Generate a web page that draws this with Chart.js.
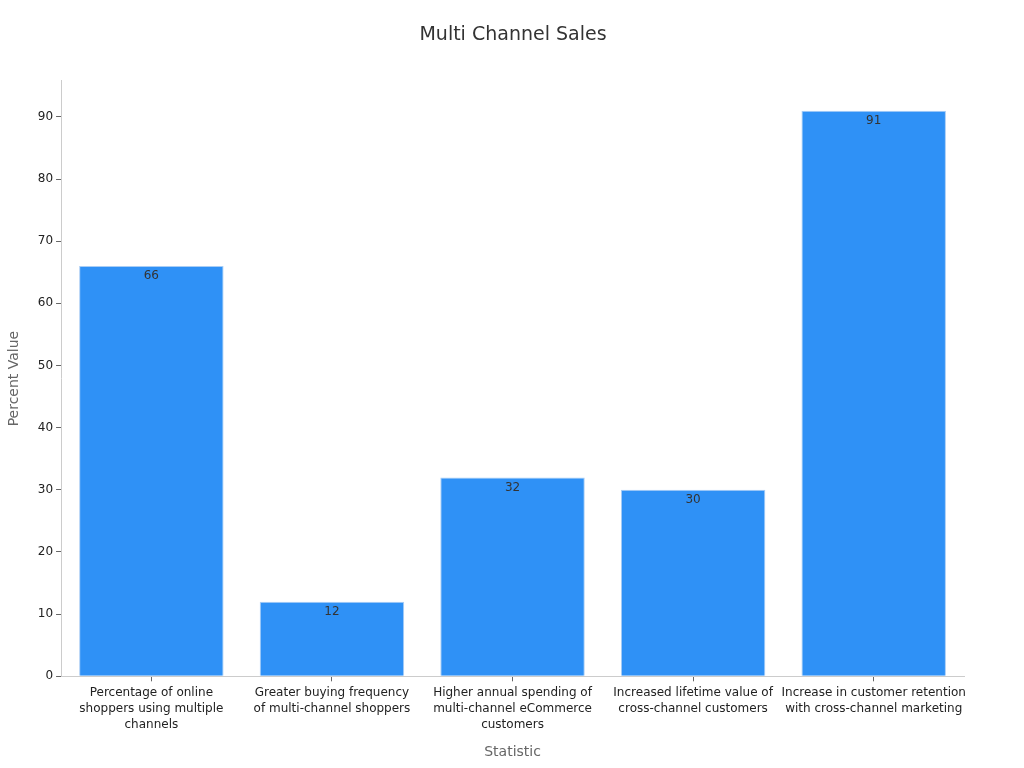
<!DOCTYPE html>
<html>
<head>
<meta charset="utf-8">
<script src="https://cdn.jsdelivr.net/npm/chart.js@4/dist/chart.umd.min.js"></script>
<style>
  html, body { margin: 0; padding: 0; background: #fff; }
  #wrap { width: 1024px; height: 768px; }
</style>
</head>
<body>
<div id="wrap"><canvas id="myChart"></canvas></div>
<script>
const categories = [
    ['Percentage of online', 'shoppers using multiple', 'channels'],
    ['Greater buying frequency', 'of multi-channel shoppers'],
    ['Higher annual spending of', 'multi-channel eCommerce', 'customers'],
    ['Increased lifetime value of', 'cross-channel customers'],
    ['Increase in customer retention', 'with cross-channel marketing']
]
const percentValues = [66, 12, 32, 30, 91]
const yTicks = [0, 10, 20, 30, 40, 50, 60, 70, 80, 90]

// draw the value just inside the top of each bar
const barLabels = {
    id: 'barLabels',
    afterDatasetsDraw(chart) {
        const ctx = chart.ctx
        const meta = chart.getDatasetMeta(0)
        ctx.save()
        ctx.font = '12px "DejaVu Sans"'
        ctx.fillStyle = '#333'
        ctx.textAlign = 'center'
        ctx.textBaseline = 'top'
        meta.data.forEach((bar, i) => {
            ctx.fillText(String(percentValues[i]), bar.x, bar.y + 4)
        })
        ctx.restore()
    }
}

Chart.defaults.font.family = '"DejaVu Sans", sans-serif'

new Chart(document.getElementById('myChart'), {
    type: 'bar',
    data: {
        labels: categories,
        datasets: [{
            label: 'Percent Value',
            data: percentValues,
            backgroundColor: '#2f91f6',
            borderColor: '#a9cdf5',
            borderWidth: 1,
            categoryPercentage: 0.8,
            barPercentage: 1
        }]
    },
    options: {
        responsive: true,
        maintainAspectRatio: false,
        animation: false,
        layout: { padding: { top: 14, right: 0, left: 2, bottom: 3 } },
        plugins: {
            legend: { display: false },
            tooltip: { enabled: false },
            title: {
                display: true,
                text: 'Multi Channel Sales',
                color: '#333',
                font: { size: 19, weight: 'normal' },
                padding: { top: 10, bottom: 34 }
            }
        },
        scales: {
            x: {
                grid: { display: true, offset: false, drawOnChartArea: false, tickLength: 5, tickColor: '#666' },
                border: { color: '#ccc' },
                ticks: { color: '#222', font: { size: 12, lineHeight: 1.33 }, maxRotation: 0, autoSkip: false, padding: 4 },
                title: { display: true, text: 'Statistic', color: '#666', font: { size: 14 }, padding: { top: 7 } }
            },
            y: {
                min: 0,
                max: 95.8,
                afterBuildTicks: axis => { axis.ticks = yTicks.map(v => ({ value: v })) },
                grid: { display: true, drawOnChartArea: false, tickLength: 5, tickColor: '#666' },
                border: { color: '#ccc' },
                ticks: { color: '#222', font: { size: 12 }, padding: 3 },
                title: { display: true, text: 'Percent Value', color: '#666', font: { size: 14 }, padding: { bottom: 12 } }
            },
            // empty right-hand axis keeps the title centred on the page
            yRight: {
                position: 'right',
                display: true,
                grid: { display: false },
                border: { display: false },
                ticks: { display: false },
                afterFit: axis => { axis.width = 60 }
            }
        }
    },
    plugins: [barLabels]
})
</script>
</body>
</html>
